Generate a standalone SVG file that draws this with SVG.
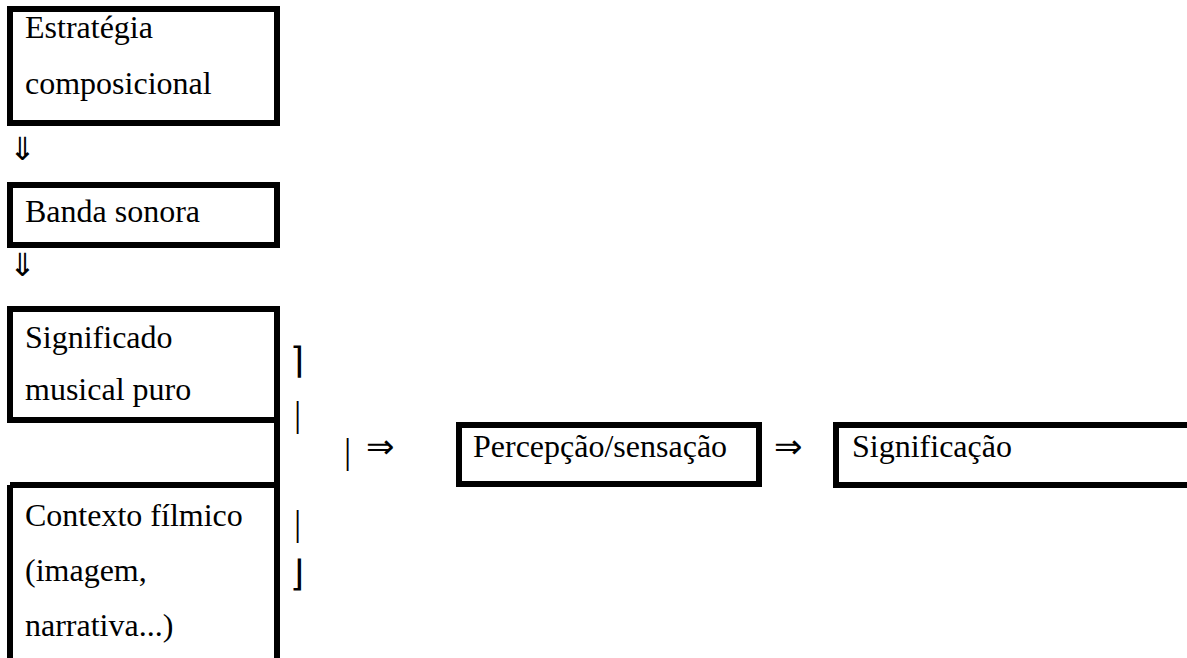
<svg xmlns="http://www.w3.org/2000/svg" width="1187" height="658" viewBox="0 0 1187 658">
<style>
.t{font-family:"Liberation Serif","Times New Roman",Tinos,"DejaVu Serif",serif;font-size:32px;fill:#000}
.s{font-family:"Liberation Serif","DejaVu Sans",sans-serif;fill:#000}
.b{fill:none;stroke:#000;stroke-width:6}
</style>
<rect width="1187" height="658" fill="#fff"/>
<g id="estrategia">
<rect class="b" x="10" y="9" width="267" height="114"/>
<text class="t" x="25" y="38">Estratégia</text>
<text class="t" x="25" y="94">composicional</text>
</g>
<g id="banda">
<rect class="b" x="10" y="185" width="267" height="60"/>
<text class="t" x="25" y="222">Banda sonora</text>
</g>
<g id="significado">
<path class="b" d="M10,309 H277 V420 H10 Z"/>
<text class="t" x="25" y="348">Significado</text>
<text class="t" x="25" y="400">musical puro</text>
</g>
<g id="contexto">
<path class="b" d="M277,420 V485 M10,485 H277 V658 M10,485 V658"/>
<text class="t" x="25" y="526">Contexto fílmico</text>
<text class="t" x="25" y="581">(imagem,</text>
<text class="t" x="25" y="636">narrativa...)</text>
</g>
<g id="percepcao">
<rect class="b" x="459" y="425" width="300" height="59"/>
<text class="t" x="473" y="457">Percepção/sensação</text>
</g>
<g id="significacao">
<path class="b" d="M1190,425 H836 V485 H1190"/>
<text class="t" x="852" y="457">Significação</text>
</g>
<g id="connectors">
<text class="s" x="9" y="160" font-size="32">⇓</text>
<text class="s" x="9" y="276" font-size="32">⇓</text>
<text class="s" x="290" y="373" font-size="36">⌉</text>
<text class="s" x="294" y="426" font-size="36">|</text>
<text class="s" x="344" y="463" font-size="36">|</text>
<text class="s" x="366" y="458" font-size="34">⇒</text>
<text class="s" x="294" y="535" font-size="36">|</text>
<text class="s" x="290" y="586" font-size="36">⌋</text>
<text class="s" x="774" y="458" font-size="34">⇒</text>
</g>
</svg>
